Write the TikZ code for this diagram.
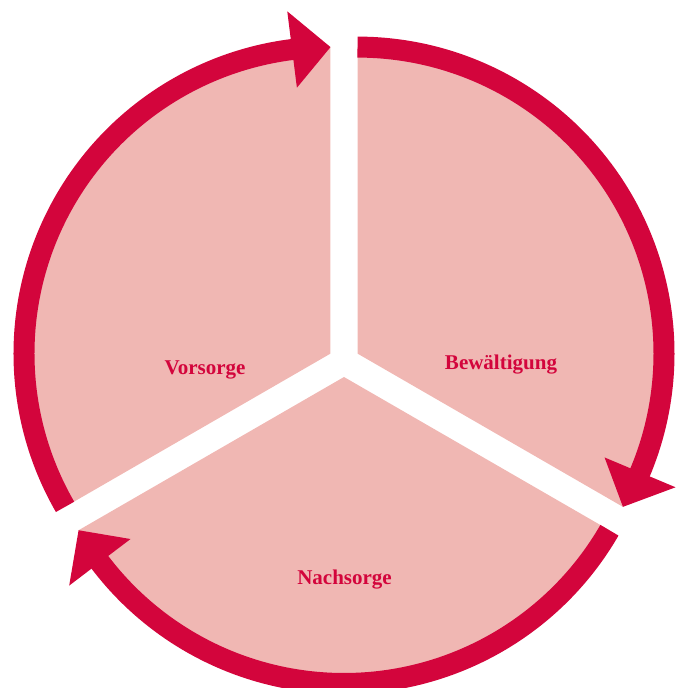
\documentclass[tikz,border=0pt]{standalone}
\usepackage{fontspec}
\setmainfont{Liberation Serif}
\definecolor{cyclered}{RGB}{211,5,60}
\definecolor{cyclepink}{RGB}{240,183,179}
\begin{document}
\begin{tikzpicture}[x=1pt,y=1pt,
  sectorfill/.style={fill=cyclepink},
  ringarc/.style={draw=cyclered, line width=21pt},
  arrowtip/.style={fill=cyclered},
  phase/.style={text=cyclered, anchor=base, inner sep=0pt,
    font=\fontsize{21}{25}\selectfont\bfseries}]
\useasboundingbox (0,0) rectangle (683,688);
\clip (0,0) rectangle (683,688);
\coordinate (C) at (344,326.6);

% upper right sector: Bewaeltigung
\begin{scope}[shift={(C)}, shift={(30:15.6pt)}]
  \fill[sectorfill] (0,0) -- (90:306.5pt) arc[start angle=90, end angle=-30, radius=306.5pt] -- cycle;
  \draw[ringarc] (90:306.5pt) arc[start angle=90, end angle=-23.5, radius=306.5pt];
  \fill[arrowtip] (-30:306.5pt) -- (-22.8:345pt) -- (-22.8:268pt) -- cycle;
\end{scope}

% upper left sector: Vorsorge
\begin{scope}[shift={(C)}, shift={(150:15.6pt)}]
  \fill[sectorfill] (0,0) -- (210:306.5pt) arc[start angle=210, end angle=90, radius=306.5pt] -- cycle;
  \draw[ringarc] (210:306.5pt) arc[start angle=210, end angle=96.5, radius=306.5pt];
  \fill[arrowtip] (90:306.5pt) -- (97.2:345pt) -- (97.2:268pt) -- cycle;
\end{scope}

% lower sector: Nachsorge
\begin{scope}[shift={(C)}, shift={(270:15.6pt)}]
  \fill[sectorfill] (0,0) -- (-30:306.5pt) arc[start angle=-30, end angle=-150, radius=306.5pt] -- cycle;
  \draw[ringarc] (-30:306.5pt) arc[start angle=-30, end angle=-143.5, radius=306.5pt];
  \fill[arrowtip] (-150:306.5pt) -- (-142.8:345pt) -- (-142.8:268pt) -- cycle;
\end{scope}

\node[phase] (vorsorge) at (205,313.7) {Vorsorge};
\node[phase] (bewaeltigung) at (501,318) {Bewältigung};
\node[phase] (nachsorge) at (344.5,103.7) {Nachsorge};
\end{tikzpicture}
\end{document}
